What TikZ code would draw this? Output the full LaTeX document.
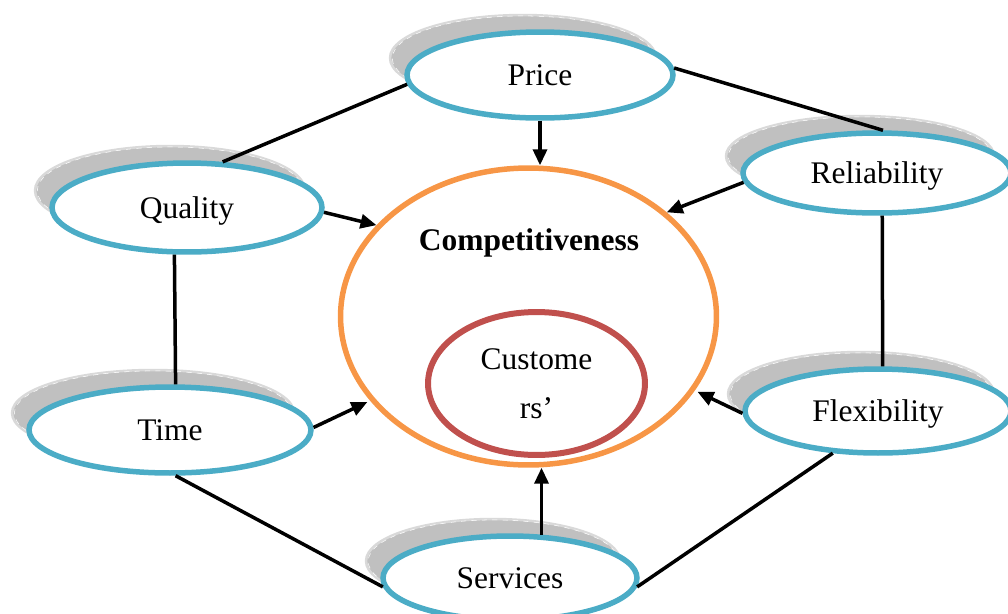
\documentclass[tikz,border=0pt]{standalone}
\usepackage{fontspec}
\setmainfont{Liberation Serif}
\usetikzlibrary{shapes.geometric,shadows,arrows.meta}

\definecolor{factorBlue}{HTML}{4BACC6}
\definecolor{compOrange}{HTML}{F79646}
\definecolor{custRed}{HTML}{C0504D}
\definecolor{shadowGray}{HTML}{C0C0C0}

\begin{document}
\begin{tikzpicture}
        [x=0.02cm, y=-0.02cm,
        every node/.style={font=\fontsize{17.9}{25.5}\selectfont},
        factor/.style={ellipse, draw=factorBlue, line width=0.11cm, fill=white,
                minimum width=5.32cm, minimum height=1.7cm, inner sep=0pt, text depth=0pt,
                general shadow={shadow xshift=-0.34cm, shadow yshift=0.34cm,
                        fill=shadowGray, draw=gray!30, line width=0.05cm},
                general shadow={shadow xshift=-0.34cm, shadow yshift=0.34cm,
                        shadow scale=0.985, fill=none, draw=white, line width=0.3pt, dashed}},
        outerRing/.style={ellipse, draw=compOrange, line width=0.11cm,
                minimum width=7.52cm, minimum height=5.94cm, inner sep=0pt},
        innerRing/.style={ellipse, draw=custRed, line width=0.12cm, align=center,
                minimum width=4.34cm, minimum height=2.86cm, inner sep=0pt},
        link/.style={black, line width=0.07cm},
        push/.style={link, -{Triangle[length=0.32cm, width=0.28cm]}}]
\useasboundingbox (0,0) rectangle (1008,613);
%%
%% Centre of the diagram
%%
\node[outerRing] (competitive) at (528.5,316.5) {};
\node[font=\fontsize{17.9}{25.5}\selectfont\bfseries] (compTitle) at (529,243) {Competitiveness};
\node[innerRing, text depth=-4pt] (customers) at (536.5,383.5) {Custome\\[2pt]rs’};
%%
%% The six factors
%%
\node[factor, minimum height=1.72cm] (price) at (540,75) {Price};
\node[factor, minimum width=5.4cm, minimum height=1.78cm] (quality) at (187,207.5) {Quality};
\node[factor, minimum width=5.36cm, minimum height=1.6cm] (reliability) at (877,173) {Reliability};
\node[factor, minimum width=5.64cm, minimum height=1.72cm] (time) at (170,430) {Time};
\node[factor, minimum height=1.68cm] (flexibility) at (878,411) {Flexibility};
\node[factor, minimum width=5.08cm, minimum height=1.68cm] (services) at (510,578) {Services};
%%
%% Links between the factors
%%
\draw[link] (price.184) -- (quality.52);
\draw[link] (price.3) -- (reliability.82.5);
\draw[link] (quality.255) -- (time.83);
\draw[link] (reliability.277.5) -- (flexibility.84.5);
\draw[link] (time.277) -- (services.184);
\draw[link] (flexibility.223) -- (services.356);
%%
%% Arrows into competitiveness
%%
\draw[push] (price.south) -- (price.south |- competitive.north);
\draw[push] (quality.358) -- (competitive.149);
\draw[push] (reliability.184) -- (competitive.37);
\draw[push, shorten >=0.06cm] (time.1) -- (competitive.208.6);
\draw[push, shorten >=0.06cm] (flexibility.181) -- (competitive.336.6);
\draw[push] (services.54.5) -- (services.54.5 |- competitive.south);
\end{tikzpicture}
\end{document}
